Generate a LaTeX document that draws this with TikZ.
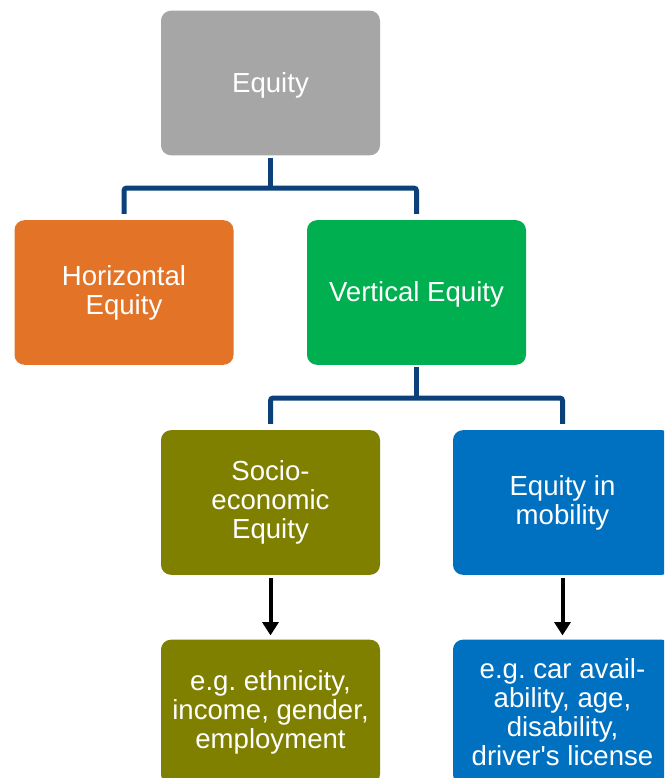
\documentclass[tikz,border=0pt]{standalone}
\usepackage{fontspec}
\setmainfont{Liberation Sans}
\usetikzlibrary{arrows.meta}
\frenchspacing

\definecolor{eqgrey}{HTML}{A6A6A6}
\definecolor{eqorange}{HTML}{E27327}
\definecolor{eqgreen}{HTML}{00B050}
\definecolor{eqolive}{HTML}{7F7F00}
\definecolor{eqblue}{HTML}{0070C0}
\definecolor{eqline}{RGB}{12,64,121}

\begin{document}
\begin{tikzpicture}[x=0.75pt, y=-0.75pt,
    box/.style = {rounded corners=7.5pt, minimum width=164.25pt, minimum height=108.5pt,
                  inner sep=0pt, align=center, text=white,
                  font=\fontsize{20.7}{21.8}\selectfont,
                  execute at begin node={\rule{0pt}{18.5pt}}},
    branch/.style = {draw=eqline, line width=3.75pt, rounded corners=2pt},
    pointer/.style = {draw=black, line width=3pt, -{Triangle[width=12pt,length=10pt]}}]

      \useasboundingbox (0,0) rectangle (664,778);
      \clip (0,0) rectangle (664,778);

      \node[box, fill=eqgrey] (equity) at (270.5,83) {Equity};

      \node[box, fill=eqorange] (horiz) at (124,292.5) {Horizontal\\Equity};
      \node[box, fill=eqgreen] (vert) at (416.5,292.5) {Vertical Equity};

      \node[box, fill=eqolive] (socio) at (270.5,502.5) {Socio-\\economic\\Equity};
      \node[box, fill=eqblue] (mobil) at (562.5,502.5) {Equity in\\mobility};

      \node[box, fill=eqolive] (socio_eg) at (270.5,712) {e.g. ethnicity,\\income, gender,\\employment};
      \node[box, fill=eqblue] (mobil_eg) at (562.5,712) {e.g. car avail-\\ability, age,\\disability,\\driver\textquotesingle s license};

      \coordinate (hub_top) at (270.5,188);
      \coordinate (hub_mid) at (416.5,398);

      \draw[branch, shorten <=1.5pt] (equity.south) -- (hub_top);
      \draw[branch, shorten <=4.5pt, shorten >=4.5pt] (horiz.north) |- (hub_top) -| (vert.north);

      \draw[branch, shorten <=1.5pt] (vert.south) -- (hub_mid);
      \draw[branch, shorten <=4.5pt, shorten >=4.5pt] (socio.north) |- (hub_mid) -| (mobil.north);

      \draw[pointer, shorten <=2pt, shorten >=3pt] (socio) -- (socio_eg);
      \draw[pointer, shorten <=2pt, shorten >=3pt] (mobil) -- (mobil_eg);

\end{tikzpicture}
\end{document}
